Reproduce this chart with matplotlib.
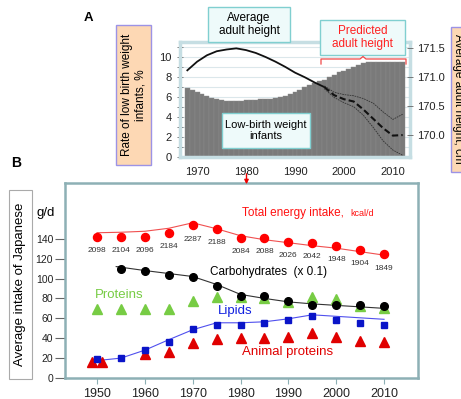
import matplotlib.pyplot as plt
import matplotlib.patches
import matplotlib.lines

plt.rcParams['font.family'] = ['Liberation Sans', 'DejaVu Sans']

fig_w, fig_h = 461, 399  # pixels at dpi 100

# Panel A: rate of low birth weight infants (%), one bar per year
lbw_years = list(range(1968, 2013))
lbw_rate = [6.9, 6.7, 6.5, 6.3, 6.1, 5.9, 5.8, 5.65, 5.6, 5.6,
            5.55, 5.6, 5.7, 5.7, 5.7, 5.75, 5.75, 5.8, 5.85, 5.95,
            6.1, 6.3, 6.5, 6.7, 7.0, 7.2, 7.35, 7.55, 7.7, 7.95,
            8.2, 8.45, 8.6, 8.75, 8.95, 9.2, 9.35, 9.45, 9.5, 9.5,
            9.5, 9.5, 9.5, 9.45, 9.45]

# Panel A: average adult height (cm), observed and predicted
height_years = [1968, 1970, 1972, 1974, 1976, 1978, 1980, 1982,
                1984, 1986, 1988, 1990, 1992, 1994, 1996]
height = [171.12, 171.27, 171.38, 171.45, 171.48, 171.50, 171.47, 171.42,
          171.35, 171.27, 171.18, 171.08, 171.00, 170.91, 170.83]
pred_years = [1996, 1998, 2000, 2002, 2004, 2006, 2008, 2010, 2012]
pred_mean = [170.83, 170.69, 170.62, 170.58, 170.44, 170.28, 170.12, 169.99, 170.00]
pred_upper = [170.85, 170.74, 170.70, 170.68, 170.63, 170.55, 170.40, 170.27, 170.36]
pred_lower = [170.80, 170.65, 170.56, 170.49, 170.34, 170.13, 169.90, 169.74, 169.65]

# Panel B: average intake of Japanese (g/d)
years = [1950, 1955, 1960, 1965, 1970, 1975, 1980, 1985, 1990, 1995, 2000, 2005, 2010]
energy = [142, 142, 142, 146, 153.5, 150, 141, 141, 137, 136, 133, 129, 124.5]
energy_kcal = [2098, 2104, 2096, 2184, 2287, 2188, 2084, 2088, 2026, 2042, 1948, 1904, 1849]
energy_trend = [146, 146.5, 147.5, 150.5, 156, 150, 143, 139, 136, 133, 130.5, 127, 123.5]

carb_years = years[1:]
carb = [110, 108, 104, 102, 92, 82.5, 82.5, 77.5, 73.5, 73.5, 73.5, 72]
carb_trend_years = [1954] + years[2:]
carb_trend = [112, 108, 105, 102, 94, 84, 80, 76.5, 74.5, 73, 71.5, 70]

protein = [69, 69, 69, 69, 77.5, 81.5, 81, 80, 76.5, 81.5, 79.5, 72.5, 70]

lipid = [19, 20.5, 28, 36.5, 49, 53.5, 53.5, 55.5, 58, 62, 58, 55.5, 53.5]
lipid_trend = [17.5, 20, 28, 38.5, 48.5, 55.5, 55.5, 56.5, 59.5, 63.5, 62, 60.5, 59]

animal_years = [1949, 1951] + years[2:]
animal = [16, 16, 24, 26.5, 35, 39, 40.5, 40, 41.5, 45, 41.5, 37, 36]

color_box_fc, color_box_ec = '#eefafa', '#80cfd0'
color_orange, color_violet = '#fdd8b4', '#9c93e6'


def fx(x):
    return x / fig_w


def fy(y):
    return 1 - y / fig_h


def rect_px(x0, y0, x1, y1):
    return [fx(x0), fy(y1), (x1 - x0) / fig_w, (y1 - y0) / fig_h]


def add_box(fig, x0, y0, x1, y1, fc, ec, lw=1.0, zorder=5):
    fig.add_artist(matplotlib.patches.Rectangle(
        (fx(x0), fy(y1)), (x1 - x0) / fig_w, (y1 - y0) / fig_h,
        transform=fig.transFigure, facecolor=fc, edgecolor=ec, linewidth=lw, zorder=zorder))


def add_text(fig, x, y, s, size=8.5, zorder=6, **kwargs):
    kwargs.setdefault('ha', 'center')
    kwargs.setdefault('va', 'center')
    fig.text(fx(x), fy(y), s, fontsize=size, zorder=zorder, **kwargs)


def plot_panel_a(fig):

    ax = fig.add_axes(rect_px(180, 42, 410, 157))

    ax.bar(lbw_years, lbw_rate, width=1.0, color='#7a7a7a', edgecolor='#8c8c8c',
           linewidth=0.3, zorder=2)

    ax.set_xlim(1966.5, 2013.5)
    ax.set_ylim(0, 11.5)
    ax.set_xticks([1970, 1980, 1990, 2000, 2010])
    ax.set_yticks(range(0, 11, 2))
    ax.set_yticks(range(0, 12), minor=True)
    ax.grid(axis='y', which='both', color='#dbe7eb', linewidth=0.8)
    ax.set_axisbelow(True)

    ax.tick_params(axis='x', length=0, pad=7, labelsize=8, labelcolor='#222222')
    ax.tick_params(axis='y', which='both', direction='inout', length=4, width=0.6,
                   color='#666666', labelsize=8, labelcolor='#222222', pad=4)

    for s in ax.spines.values():
        s.set_color('#c6dee3')
        s.set_linewidth(2.5)

    # Average adult height on the right axis
    axh = ax.twinx()
    axh.plot(height_years, height, color='#111111', linewidth=1.3, zorder=3)
    axh.plot(pred_years, pred_mean, color='#111111', linewidth=1.5,
             linestyle=(0, (3, 1.5)), zorder=3)
    axh.plot(pred_years, pred_upper, color='#333333', linewidth=0.6,
             linestyle=(0, (2, 1)), zorder=3)
    axh.plot(pred_years, pred_lower, color='#333333', linewidth=0.6,
             linestyle=(0, (2, 1)), zorder=3)

    axh.set_ylim(169.62, 171.61)
    axh.set_yticks([170.0, 170.5, 171.0, 171.5])
    axh.set_yticklabels(['170.0', '170.5', '171.0', '171.5'])
    axh.tick_params(axis='y', direction='inout', length=4, width=0.6, color='#666666',
                    labelsize=8, labelcolor='#222222', pad=3)
    for s in axh.spines.values():
        s.set_visible(False)

    # Text boxes
    add_box(fig, 208, 7, 290, 42, color_box_fc, color_box_ec)
    add_text(fig, 249, 24.5, 'Average\nadult height', linespacing=1.15)

    add_box(fig, 320, 20, 405, 55, color_box_fc, color_box_ec)
    add_text(fig, 362.5, 37.5, 'Predicted\nadult height', color='#ff2020', linespacing=1.15)

    add_box(fig, 222, 113, 310, 148, color_box_fc, color_box_ec)
    add_text(fig, 266, 130.5, 'Low-birth weight\ninfants', size=8, linespacing=1.15)

    # Bracket over the predicted period
    bx = [321, 321, 360, 363, 366, 406, 406]
    by = [64, 59, 59, 56.5, 59, 59, 64]
    fig.add_artist(matplotlib.lines.Line2D(
        [fx(v) for v in bx], [fy(v) for v in by], transform=fig.transFigure,
        color='#f04848', linewidth=0.9, zorder=5))

    # Axis title boxes
    add_box(fig, 116, 25, 151, 165, color_orange, color_violet)
    add_text(fig, 133.5, 95, 'Rate of low birth weight\ninfants, %', rotation=90,
             linespacing=1.2)

    # right title box runs past the figure edge, as in the original layout
    add_box(fig, 451, 27, 475, 172, color_orange, color_violet)
    add_text(fig, 458, 99, 'Average adult height, cm', rotation=270)

    add_text(fig, 88, 18, 'A', size=9.5, weight='bold')


def plot_panel_b(fig):

    ax = fig.add_axes(rect_px(65, 183, 418, 378))

    ax.plot(years, energy_trend, color='#f05050', linewidth=0.8, zorder=2)
    ax.plot(carb_trend_years, carb_trend, color='#333333', linewidth=0.8, zorder=2)
    ax.plot(years, lipid_trend, color='#5050ee', linewidth=0.8, zorder=2)

    ax.plot(years, protein, linestyle='none', marker='^', markersize=6.5,
            color='#77cc44', zorder=3)
    ax.plot(animal_years, animal, linestyle='none', marker='^', markersize=6.5,
            color='#e00000', zorder=3)
    ax.plot(years, lipid, linestyle='none', marker='s', markersize=4.8,
            color='#0a14c8', zorder=4)
    ax.plot(carb_years, carb, linestyle='none', marker='o', markersize=5.5,
            color='#000000', zorder=4)
    ax.plot(years, energy, linestyle='none', marker='o', markersize=5.8,
            color='#ff0000', zorder=4)

    for yr, val, kcal in zip(years, energy, energy_kcal):
        ax.annotate(str(kcal), xy=(yr, val), xytext=(0, -10), textcoords='offset points',
                    ha='center', va='center', fontsize=6, color='#333333', zorder=3)

    ax.set_xlim(1943.3, 2017.1)
    ax.set_ylim(0, 196)
    ax.set_xticks([1950, 1960, 1970, 1980, 1990, 2000, 2010])
    ax.set_yticks(range(0, 141, 20))
    ax.tick_params(axis='x', length=4, width=0.8, color='#8db0b5', labelsize=9,
                   labelcolor='#222222', pad=3)
    ax.tick_params(axis='y', length=7, width=0.8, color='#666666', labelsize=7.5,
                   labelcolor='#222222', pad=1.5)

    for s in ax.spines.values():
        s.set_color('#8db0b5')
        s.set_linewidth(1.8)

    # Series labels
    add_text(fig, 242, 216, 'Total energy intake,', size=8.5, color='#ff1010',
             ha='left', va='baseline')
    add_text(fig, 350, 216, 'kcal/d', size=6.5, color='#ff1010',
             ha='left', va='baseline')
    add_text(fig, 210, 272, 'Carbohydrates  (x 0.1)', size=8.5, ha='left')
    add_text(fig, 95, 295, 'Proteins', size=9.5, color='#77cc44', ha='left')
    add_text(fig, 218, 311, 'Lipids', size=9.5, color='#1020e0', ha='left')
    add_text(fig, 242, 352, 'Animal proteins', size=9.5, color='#e00000', ha='left')

    add_text(fig, 46, 213, 'g/d', size=9.5)

    add_box(fig, 9, 190, 32, 379, 'white', '#aaaaaa', lw=0.8)
    add_text(fig, 20.5, 284, 'Average intake of Japanese', size=9.5, rotation=90)

    add_text(fig, 16, 163, 'B', size=10, weight='bold')

    # Arrow linking the two panels
    fig.add_artist(matplotlib.patches.FancyArrowPatch(
        (fx(246.5), fy(171)), (fx(246.5), fy(187)), transform=fig.transFigure,
        arrowstyle='-|>', mutation_scale=6, color='#ee0000', linewidth=1.0, zorder=7))


def main():

    fig = plt.figure(figsize=(fig_w / 100, fig_h / 100), dpi=100)

    plot_panel_a(fig)
    plot_panel_b(fig)

    fig.savefig('out.png', dpi=100)


if __name__ == '__main__':
    main()
